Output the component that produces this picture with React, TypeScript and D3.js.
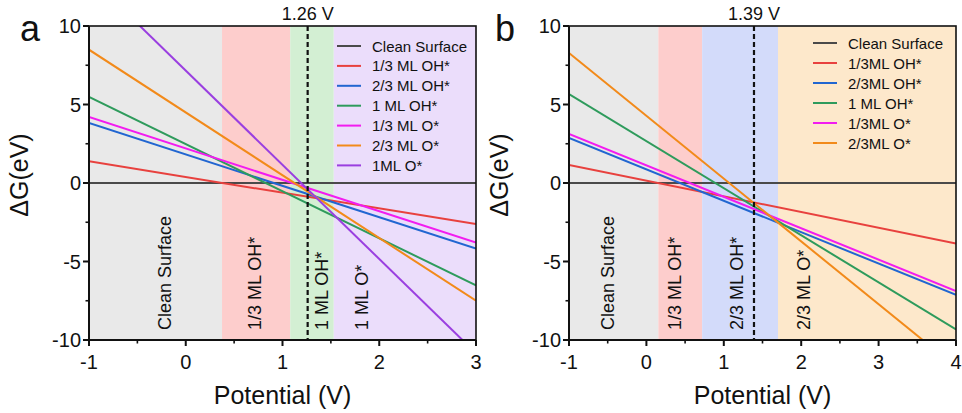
import React from "react";
import * as d3 from "d3";

// ---------- data ----------
const yTicks = [-10, -5, 0, 5, 10];
const yMinor = [-7.5, -2.5, 2.5, 7.5];

// Panel a
const aDomain = [-1, 3];
const aXTicks = [-1, 0, 1, 2, 3];
const aNames = ["Clean Surface", "1/3 ML OH*", "2/3 ML OH*", "1 ML OH*", "1/3 ML O*", "2/3 ML O*", "1ML O*"];
const aColors = ["#4a4a4a", "#e8413e", "#2166d1", "#2e9b5c", "#f21cf0", "#f28a1a", "#9a3fe0"];
const aStart = [0, 1.38, 3.82, 5.48, 4.2, 8.49, 13.16]; // ΔG at U = -1
const aEnd = [0, -2.62, -4.18, -6.52, -3.8, -7.5, -10.84]; // ΔG at U = 3
const aRegionEdges = [-1, 0.375, 1.08, 1.53, 3];
const aRegionColors = ["#e9e9e9", "#fdcdcc", "#d3efd3", "#ebddfb"];
const aRegionLabels = ["Clean Surface", "1/3 ML OH*", "1 ML OH*", "1 ML O*"];
const aLimit = 1.26;

// Panel b
const bDomain = [-1, 4];
const bXTicks = [-1, 0, 1, 2, 3, 4];
const bNames = ["Clean Surface", "1/3ML OH*", "2/3ML OH*", "1 ML OH*", "1/3ML O*", "2/3ML O*"];
const bColors = ["#4a4a4a", "#e8413e", "#2166d1", "#2e9b5c", "#f21cf0", "#f28a1a"];
const bStart = [0, 1.15, 2.87, 5.67, 3.12, 8.28];
const bEnd = [0, -3.85, -7.13, -9.33, -6.88, -11.72];
const bRegionEdges = [-1, 0.154, 0.72, 1.7, 4];
const bRegionColors = ["#e9e9e9", "#fdcdcc", "#d3dbfa", "#fde8cb"];
const bRegionLabels = ["Clean Surface", "1/3 ML OH*", "2/3 ML OH*", "2/3 ML O*"];
const bLimit = 1.39;

const FONT = "Liberation Sans, Arial, Helvetica, sans-serif";

type PanelProps = {
  id: string;
  letter: string;
  domain: number[];
  xTicks: number[];
  names: string[];
  colors: string[];
  start: number[];
  end: number[];
  edges: number[];
  regionColors: string[];
  regionLabels: string[];
  regionLabelX: number[];
  limit: number;
  left: number;
  right: number;
  legendLineX: number;
  legendTop: number;
  legendStep: number;
  letterX: number;
};

function Panel(p: PanelProps) {
  const top = 26;
  const bottom = 340;
  const x = d3.scaleLinear().domain(p.domain).range([p.left, p.right]);
  const y = d3.scaleLinear().domain([-10, 10]).range([bottom, top]);
  const line = d3
    .line<[number, number]>()
    .x((d) => x(d[0]))
    .y((d) => y(d[1]));
  const xMinor = d3.range(p.domain[0] + 0.5, p.domain[1], 1);
  const clipId = `clip-${p.id}`;
  return (
    <g>
      <defs>
        <clipPath id={clipId}>
          <rect x={p.left} y={top} width={p.right - p.left} height={bottom - top} />
        </clipPath>
      </defs>
      {/* regions */}
      {p.regionColors.map((c, i) => (
        <rect
          key={"r" + i}
          x={x(p.edges[i])}
          y={top}
          width={x(p.edges[i + 1]) - x(p.edges[i])}
          height={bottom - top}
          fill={c}
        />
      ))}
      {/* region labels */}
      {p.regionLabels.map((t, i) => (
        <text
          key={"rl" + i}
          transform={`translate(${x(p.regionLabelX[i])},330) rotate(-90)`}
          fontFamily={FONT}
          fontSize={18}
          fill="#111"
          dominantBaseline="central"
        >
          {t}
        </text>
      ))}
      {/* lines */}
      <g clipPath={`url(#${clipId})`}>
        {p.names.map((n, i) => (
          <path
            key={"l" + i}
            d={line([
              [p.domain[0], p.start[i]],
              [p.domain[1], p.end[i]],
            ]) as string}
            stroke={p.colors[i]}
            strokeWidth={2}
            fill="none"
          />
        ))}
      </g>
      {/* limiting potential */}
      <line
        x1={x(p.limit)}
        x2={x(p.limit)}
        y1={top}
        y2={bottom}
        stroke="#111"
        strokeWidth={2.2}
        strokeDasharray="5,3"
      />
      <text
        x={x(p.limit)}
        y={20}
        textAnchor="middle"
        fontFamily={FONT}
        fontSize={18}
        fill="#111"
      >
        {`${p.limit.toFixed(2)} V`}
      </text>
      {/* legend */}
      {p.names.map((n, i) => (
        <g key={"lg" + i}>
          <line
            x1={p.legendLineX}
            x2={p.legendLineX + 24}
            y1={p.legendTop + i * p.legendStep}
            y2={p.legendTop + i * p.legendStep}
            stroke={p.colors[i]}
            strokeWidth={2}
          />
          <text
            x={p.legendLineX + 35}
            y={p.legendTop + i * p.legendStep}
            dominantBaseline="central"
            fontFamily={FONT}
            fontSize={15}
            fill="#111"
          >
            {n}
          </text>
        </g>
      ))}
      {/* frame */}
      <rect
        x={p.left}
        y={top}
        width={p.right - p.left}
        height={bottom - top}
        fill="none"
        stroke="#111"
        strokeWidth={1.6}
      />
      <line x1={p.left} x2={p.left} y1={top} y2={bottom + 1} stroke="#111" strokeWidth={2} />
      <line x1={p.left - 1} x2={p.right} y1={bottom} y2={bottom} stroke="#111" strokeWidth={2} />
      {/* x ticks */}
      {p.xTicks.map((t) => (
        <g key={"xt" + t}>
          <line x1={x(t)} x2={x(t)} y1={bottom} y2={bottom + 6} stroke="#111" strokeWidth={2} />
          <text
            x={x(t)}
            y={362}
            textAnchor="middle"
            dominantBaseline="central"
            fontFamily={FONT}
            fontSize={20}
            fill="#111"
          >
            {t}
          </text>
        </g>
      ))}
      {xMinor.map((t) => (
        <line key={"xm" + t} x1={x(t)} x2={x(t)} y1={bottom} y2={bottom + 3.5} stroke="#111" strokeWidth={1.6} />
      ))}
      {/* y ticks */}
      {yTicks.map((t) => (
        <g key={"yt" + t}>
          <line x1={p.left - 6} x2={p.left} y1={y(t)} y2={y(t)} stroke="#111" strokeWidth={2} />
          <text
            x={p.left - 8}
            y={y(t)}
            textAnchor="end"
            dominantBaseline="central"
            fontFamily={FONT}
            fontSize={20}
            fill="#111"
          >
            {t}
          </text>
        </g>
      ))}
      {yMinor.map((t) => (
        <line key={"ym" + t} x1={p.left - 3.5} x2={p.left} y1={y(t)} y2={y(t)} stroke="#111" strokeWidth={1.6} />
      ))}
      {/* axis titles */}
      <text
        x={(p.left + p.right) / 2}
        y={404}
        textAnchor="middle"
        fontFamily={FONT}
        fontSize={25}
        fill="#111"
      >
        Potential (V)
      </text>
      <text
        transform={`translate(${p.left - 70},${(top + bottom) / 2 - 8}) rotate(-90)`}
        textAnchor="middle"
        dominantBaseline="central"
        fontFamily={FONT}
        fontSize={25}
        fill="#111"
      >
        ΔG(eV)
      </text>
      <text x={p.letterX} y={41} fontFamily={FONT} fontSize={36} fill="#111">
        {p.letter}
      </text>
    </g>
  );
}

export default function App() {
  return (
    <svg
      width={962}
      height={413}
      style={{ position: "absolute", left: 0, top: 0, background: "#fff" }}
    >
      <rect width={962} height={413} fill="#fff" />
      <Panel
        id="a"
        letter="a"
        domain={aDomain}
        xTicks={aXTicks}
        names={aNames}
        colors={aColors}
        start={aStart}
        end={aEnd}
        edges={aRegionEdges}
        regionColors={aRegionColors}
        regionLabels={aRegionLabels}
        regionLabelX={[-0.21, 0.72, 1.41, 1.82]}
        limit={aLimit}
        left={89}
        right={476}
        legendLineX={337}
        legendTop={46}
        legendStep={19.9}
        letterX={20}
      />
      <Panel
        id="b"
        letter="b"
        domain={bDomain}
        xTicks={bXTicks}
        names={bNames}
        colors={bColors}
        start={bStart}
        end={bEnd}
        edges={bRegionEdges}
        regionColors={bRegionColors}
        regionLabels={bRegionLabels}
        regionLabelX={[-0.5, 0.37, 1.17, 2.03]}
        limit={bLimit}
        left={569}
        right={956}
        legendLineX={813}
        legendTop={43}
        legendStep={20}
        letterX={495}
      />
    </svg>
  );
}
